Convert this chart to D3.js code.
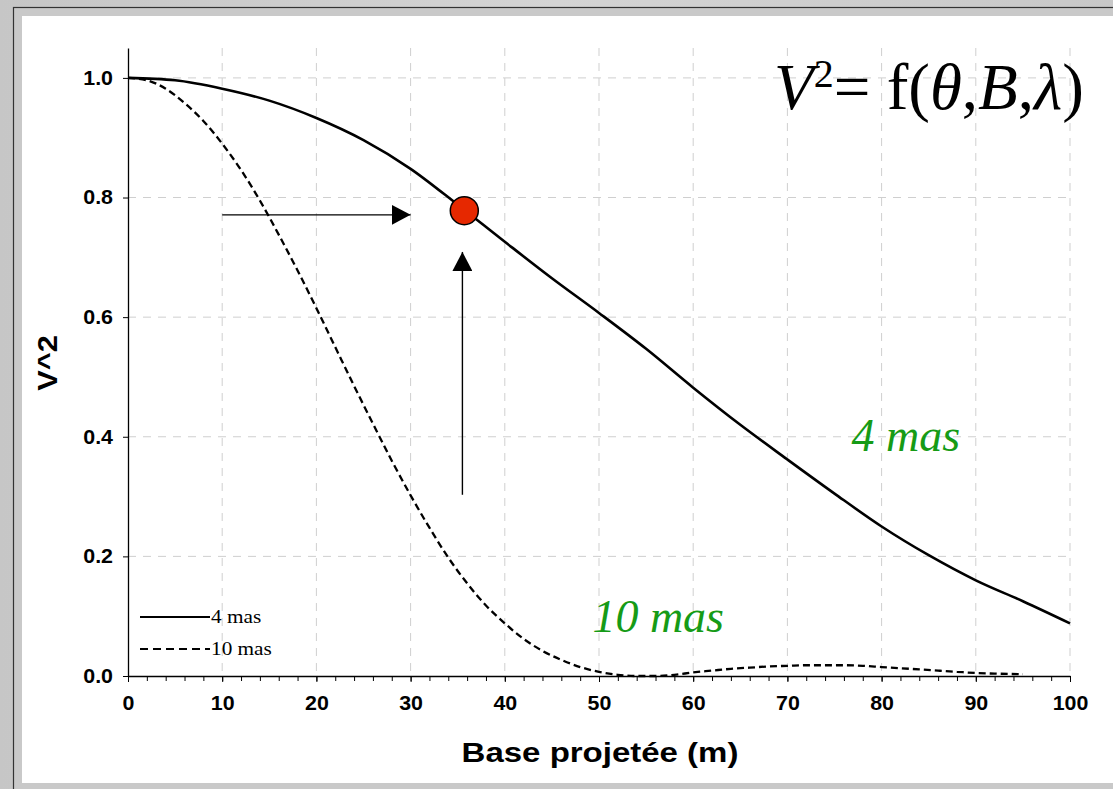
<!DOCTYPE html>
<html>
<head>
<meta charset="utf-8">
<script src="https://cdn.jsdelivr.net/npm/d3@7/dist/d3.min.js"></script>
<style>
body { margin: 0; background: #cbcbcb; }
svg { display: block; }
</style>
</head>
<body>
<div class="grafico"></div>
<script>
// donnees
var baseSolide = [0, 5, 10, 15, 20, 25, 30, 35, 40, 45, 50, 55, 60, 65, 70, 75, 80, 85, 90, 95, 100];
var v2Solide = [1.000, 0.996, 0.982, 0.962, 0.933, 0.896, 0.848, 0.788, 0.726, 0.665, 0.607, 0.547, 0.482, 0.420, 0.362, 0.305, 0.250, 0.202, 0.160, 0.125, 0.088];

var baseTirets = [0, 2, 4, 6, 8, 10, 12, 14, 16, 18, 20, 22, 24, 26, 28, 30, 32, 34, 36, 38, 40, 42, 44, 46, 48, 50, 52, 54, 56, 58, 60, 62, 64, 66, 68, 70, 72, 74, 76, 78, 80, 82, 84, 86, 88, 90, 92, 95];
var v2Tirets = [1.000, 0.996, 0.982, 0.958, 0.928, 0.890, 0.846, 0.795, 0.738, 0.678, 0.615, 0.550, 0.485, 0.422, 0.360, 0.302, 0.248, 0.198, 0.155, 0.118, 0.088, 0.062, 0.042, 0.027, 0.015, 0.007, 0.002, 0.000, 0.000, 0.002, 0.006, 0.009, 0.012, 0.014, 0.016, 0.017, 0.018, 0.018, 0.018, 0.017, 0.015, 0.013, 0.011, 0.009, 0.007, 0.005, 0.004, 0.003];

var xTicks = [0, 10, 20, 30, 40, 50, 60, 70, 80, 90, 100];
var xMinor = d3.range(0, 101, 2);
var yTicks = [0, 0.2, 0.4, 0.6, 0.8, 1.0];
var legende = ["4 mas", "10 mas"];
var etiquettes = [{t: "4 mas", x: 76.8, y: 0.377}, {t: "10 mas", x: 49.3, y: 0.074}];
var point = {x: 35.7, y: 0.778};
var flecheH = [[10, 0.771], [30.0, 0.771]];
var flecheV = [[35.5, 0.303], [35.5, 0.709]];

var w = 1113, h = 789;
var sx = 1.07; // le graphique d'origine est etire horizontalement

var svg = d3.select(".grafico").append("svg")
    .attr("width", w)
    .attr("height", h);

// fond et cadre
var defs = svg.append("defs");
var grad = defs.append("linearGradient").attr("id", "fond").attr("x1", "0").attr("x2", "1");
grad.append("stop").attr("offset", "0").attr("stop-color", "#c6c6c6");
grad.append("stop").attr("offset", "0.5").attr("stop-color", "#d4d4d4");
grad.append("stop").attr("offset", "1").attr("stop-color", "#c8c8c8");
svg.append("rect").attr("width", w).attr("height", h).attr("fill", "url(#fond)");
svg.append("rect")
    .attr("x", 13.5).attr("y", 7.5).attr("width", w).attr("height", h)
    .attr("fill", "#c9c9c9").attr("stroke", "#333").attr("stroke-width", 1.2);
svg.append("rect")
    .attr("x", 22).attr("y", 16).attr("width", w - 22).attr("height", 767)
    .attr("fill", "#fff");

var x = d3.scaleLinear().domain([0, 100]).range([128, 1070]);
var y = d3.scaleLinear().domain([0, 1.05]).range([676, 48]);

// grille
svg.append("g").selectAll("line")
    .data(yTicks.slice(1))
    .enter().append("line")
    .attr("x1", x(0)).attr("x2", x(100))
    .attr("y1", function(d) { return y(d); })
    .attr("y2", function(d) { return y(d); })
    .style("stroke", "#cfcfcf")
    .style("stroke-dasharray", "8,7");
svg.append("g").selectAll("line")
    .data(xTicks.slice(1))
    .enter().append("line")
    .attr("x1", function(d) { return x(d); })
    .attr("x2", function(d) { return x(d); })
    .attr("y1", y(1.05)).attr("y2", y(0))
    .style("stroke", "#cfcfcf")
    .style("stroke-dasharray", "8,7");

// courbes
var ligne = d3.line()
    .x(function(d) { return x(d[0]); })
    .y(function(d) { return y(d[1]); })
    .curve(d3.curveMonotoneX);

var solide = baseSolide.map(function(b, i) { return [b, v2Solide[i]]; });
var tirets = baseTirets.map(function(b, i) { return [b, v2Tirets[i]]; });

svg.append("path")
    .attr("d", ligne(tirets))
    .attr("fill", "none")
    .style("stroke", "#000")
    .style("stroke-width", 2.3)
    .style("stroke-dasharray", "7,4");
svg.append("path")
    .attr("d", ligne(solide))
    .attr("fill", "none")
    .style("stroke", "#000")
    .style("stroke-width", 2.6);

// axes
var axeX = svg.append("g")
    .attr("transform", "translate(0," + y(0) + ")")
    .call(d3.axisBottom(x).tickValues(xMinor).tickSize(5).tickFormat(""));
axeX.select(".domain").remove();
var axeX2 = svg.append("g")
    .attr("transform", "translate(0," + y(0) + ")")
    .call(d3.axisBottom(x).tickValues(xTicks).tickSize(6).tickPadding(14).tickSizeOuter(0));
axeX2.selectAll("text")
    .attr("transform", "scale(" + sx + ",1)")
    .style("font-family", "'Liberation Sans', Arial, sans-serif")
    .style("font-weight", "bold")
    .style("font-size", "20px")
    .attr("fill", "#000");

var axeY = svg.append("g")
    .attr("transform", "translate(" + x(0) + ",0)")
    .call(d3.axisLeft(y).tickValues(yTicks).tickSize(5).tickSizeOuter(0).tickFormat(d3.format(".1f")));
axeY.selectAll("text")
    .attr("x", -15 / sx)
    .attr("transform", "scale(" + sx + ",1)")
    .style("font-family", "'Liberation Sans', Arial, sans-serif")
    .style("font-weight", "bold")
    .style("font-size", "20px")
    .attr("fill", "#000");
svg.selectAll(".domain").style("stroke", "#000").style("stroke-width", 1.3);

// titres des axes
svg.append("text")
    .attr("transform", "translate(600,762) scale(1.2,1)")
    .attr("text-anchor", "middle")
    .style("font-family", "'Liberation Sans', Arial, sans-serif")
    .style("font-weight", "bold")
    .style("font-size", "27.5px")
    .text("Base projetée (m)");
svg.append("text")
    .attr("transform", "translate(57,363) rotate(-90) scale(1.1,1)")
    .attr("text-anchor", "middle")
    .style("font-family", "'Liberation Sans', Arial, sans-serif")
    .style("font-weight", "bold")
    .style("font-size", "28px")
    .text("V^2");

// legende
var leg = svg.append("g").selectAll("g")
    .data(legende)
    .enter().append("g")
    .attr("transform", function(d, i) { return "translate(140," + (617 + i * 32) + ")"; });
leg.append("line")
    .attr("x1", 0).attr("x2", 70)
    .style("stroke", "#000")
    .style("stroke-width", 1.8)
    .style("stroke-dasharray", function(d, i) { return i == 1 ? "8,5" : null; });
leg.append("text")
    .attr("transform", "translate(71,6) scale(1.15,1)")
    .style("font-family", "'Liberation Serif', 'Times New Roman', serif")
    .style("font-size", "18.5px")
    .text(function(d) { return d; });

// fleches
defs.append("marker")
    .attr("id", "pointe")
    .attr("markerUnits", "userSpaceOnUse")
    .attr("viewBox", "0 0 19 20")
    .attr("markerWidth", 19).attr("markerHeight", 20)
    .attr("refX", 19).attr("refY", 10)
    .attr("orient", "auto")
    .append("path").attr("d", "M0,0 L19,10 L0,20 Z").attr("fill", "#000");
[flecheH, flecheV].forEach(function(f) {
    svg.append("line")
        .attr("x1", x(f[0][0])).attr("y1", y(f[0][1]))
        .attr("x2", x(f[1][0])).attr("y2", y(f[1][1]))
        .attr("marker-end", "url(#pointe)")
        .style("stroke", "#000")
        .style("stroke-width", 1.4);
});

// point rouge
svg.append("circle")
    .attr("cx", x(point.x)).attr("cy", y(point.y))
    .attr("r", 14)
    .attr("fill", "#e62800")
    .style("stroke", "#000")
    .style("stroke-width", 1.5);

// etiquettes vertes
svg.append("g").selectAll("text")
    .data(etiquettes)
    .enter().append("text")
    .attr("x", function(d) { return x(d.x); })
    .attr("y", function(d) { return y(d.y); })
    .style("font-family", "'Liberation Serif', 'Times New Roman', serif")
    .style("font-style", "italic")
    .style("font-size", "46px")
    .attr("fill", "#169b16")
    .text(function(d) { return d.t; });

// formule
var formule = svg.append("text")
    .attr("x", 774).attr("y", 109)
    .style("font-family", "'Liberation Serif', 'Times New Roman', serif")
    .style("font-size", "65px")
    .attr("fill", "#000");
formule.append("tspan").style("font-style", "italic").text("V");
formule.append("tspan").attr("dy", -22).style("font-size", "40px").text("2");
formule.append("tspan").attr("dy", 22).text("= f(");
formule.append("tspan").style("font-style", "italic").text("θ");
formule.append("tspan").text(",");
formule.append("tspan").style("font-style", "italic").text("B");
formule.append("tspan").text(",");
formule.append("tspan").style("font-style", "italic").text("λ");
formule.append("tspan").text(")");
</script>
</body>
</html>
